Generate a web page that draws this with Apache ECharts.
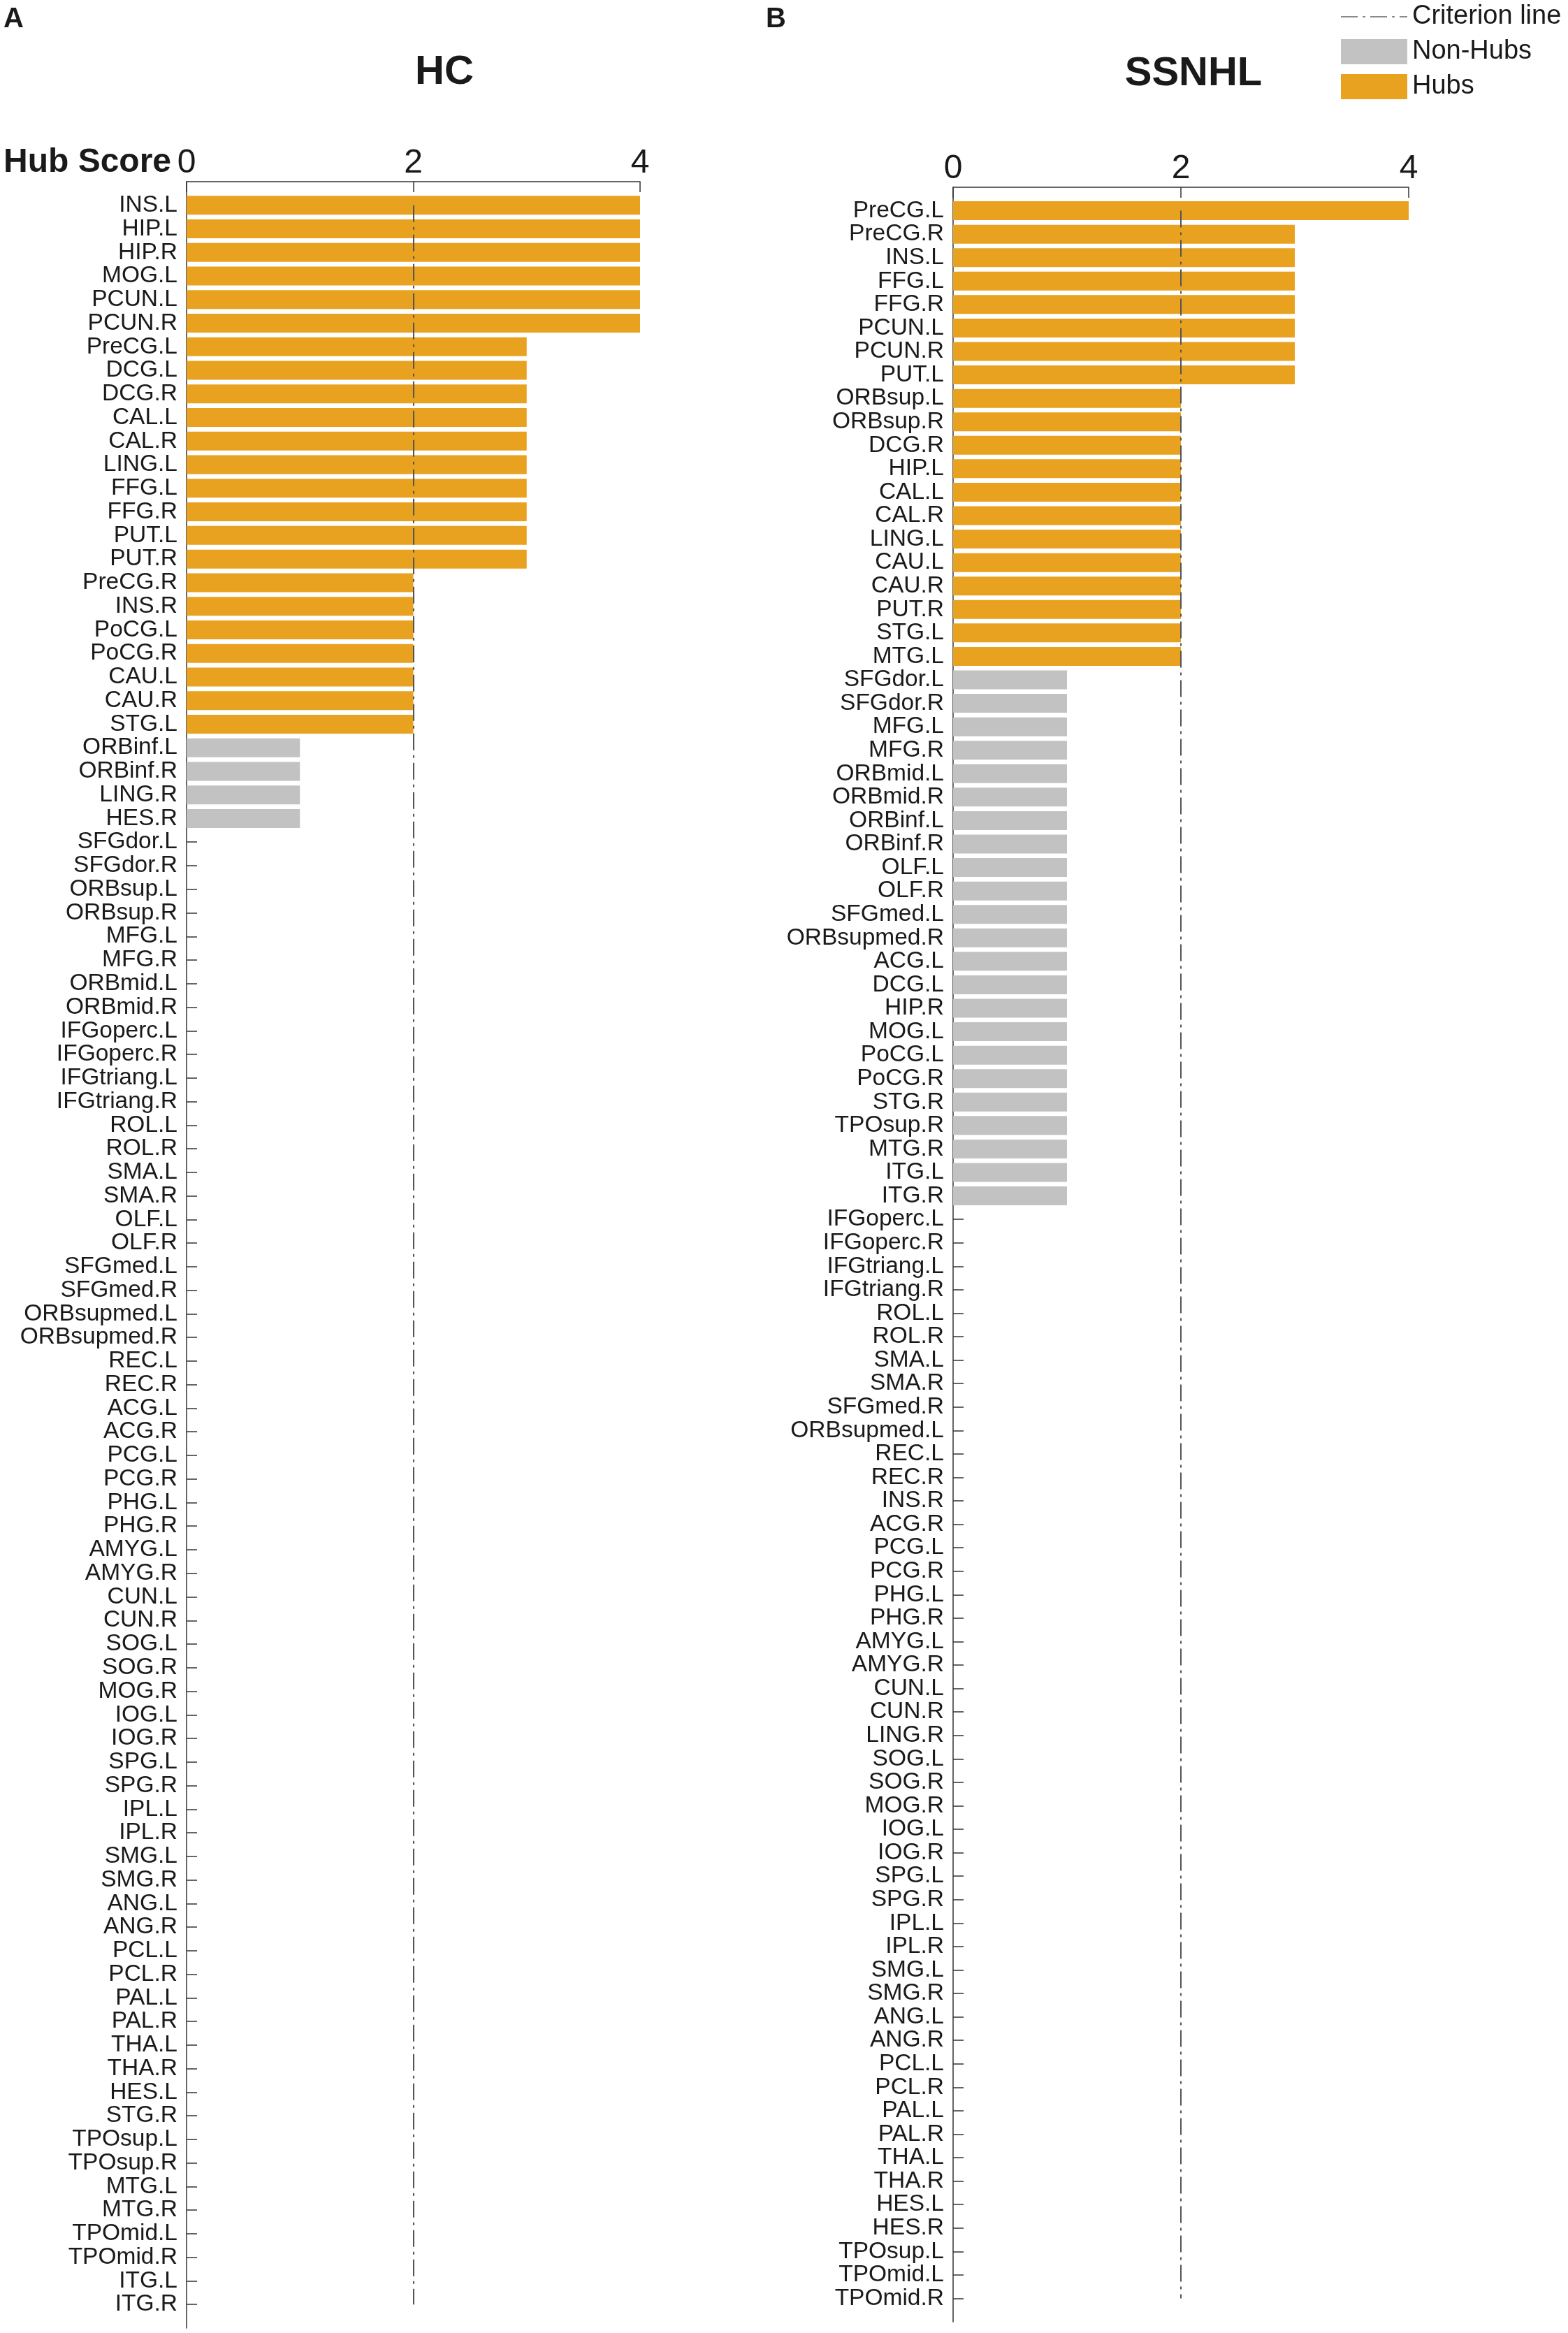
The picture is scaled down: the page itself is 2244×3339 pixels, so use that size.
<!DOCTYPE html>
<html>
<head>
<meta charset="utf-8">
<script src="https://cdn.jsdelivr.net/npm/echarts@6/dist/echarts.min.js"></script>
<style>
html,body{margin:0;padding:0;background:#fff;}
#chart{width:2244px;height:3339px;}
</style>
</head>
<body>
<div id="chart"></div>
<script>
// ---------- DATA ----------
const hcCategories = ["INS.L","HIP.L","HIP.R","MOG.L","PCUN.L","PCUN.R","PreCG.L","DCG.L","DCG.R","CAL.L","CAL.R","LING.L","FFG.L","FFG.R","PUT.L","PUT.R","PreCG.R","INS.R","PoCG.L","PoCG.R","CAU.L","CAU.R","STG.L","ORBinf.L","ORBinf.R","LING.R","HES.R","SFGdor.L","SFGdor.R","ORBsup.L","ORBsup.R","MFG.L","MFG.R","ORBmid.L","ORBmid.R","IFGoperc.L","IFGoperc.R","IFGtriang.L","IFGtriang.R","ROL.L","ROL.R","SMA.L","SMA.R","OLF.L","OLF.R","SFGmed.L","SFGmed.R","ORBsupmed.L","ORBsupmed.R","REC.L","REC.R","ACG.L","ACG.R","PCG.L","PCG.R","PHG.L","PHG.R","AMYG.L","AMYG.R","CUN.L","CUN.R","SOG.L","SOG.R","MOG.R","IOG.L","IOG.R","SPG.L","SPG.R","IPL.L","IPL.R","SMG.L","SMG.R","ANG.L","ANG.R","PCL.L","PCL.R","PAL.L","PAL.R","THA.L","THA.R","HES.L","STG.R","TPOsup.L","TPOsup.R","MTG.L","MTG.R","TPOmid.L","TPOmid.R","ITG.L","ITG.R"];
const hcScores = [4,4,4,4,4,4,3,3,3,3,3,3,3,3,3,3,2,2,2,2,2,2,2,1,1,1,1,0,0,0,0,0,0,0,0,0,0,0,0,0,0,0,0,0,0,0,0,0,0,0,0,0,0,0,0,0,0,0,0,0,0,0,0,0,0,0,0,0,0,0,0,0,0,0,0,0,0,0,0,0,0,0,0,0,0,0,0,0,0,0];

const ssnhlCategories = ["PreCG.L","PreCG.R","INS.L","FFG.L","FFG.R","PCUN.L","PCUN.R","PUT.L","ORBsup.L","ORBsup.R","DCG.R","HIP.L","CAL.L","CAL.R","LING.L","CAU.L","CAU.R","PUT.R","STG.L","MTG.L","SFGdor.L","SFGdor.R","MFG.L","MFG.R","ORBmid.L","ORBmid.R","ORBinf.L","ORBinf.R","OLF.L","OLF.R","SFGmed.L","ORBsupmed.R","ACG.L","DCG.L","HIP.R","MOG.L","PoCG.L","PoCG.R","STG.R","TPOsup.R","MTG.R","ITG.L","ITG.R","IFGoperc.L","IFGoperc.R","IFGtriang.L","IFGtriang.R","ROL.L","ROL.R","SMA.L","SMA.R","SFGmed.R","ORBsupmed.L","REC.L","REC.R","INS.R","ACG.R","PCG.L","PCG.R","PHG.L","PHG.R","AMYG.L","AMYG.R","CUN.L","CUN.R","LING.R","SOG.L","SOG.R","MOG.R","IOG.L","IOG.R","SPG.L","SPG.R","IPL.L","IPL.R","SMG.L","SMG.R","ANG.L","ANG.R","PCL.L","PCL.R","PAL.L","PAL.R","THA.L","THA.R","HES.L","HES.R","TPOsup.L","TPOmid.L","TPOmid.R"];
const ssnhlScores = [4,3,3,3,3,3,3,3,2,2,2,2,2,2,2,2,2,2,2,2,1,1,1,1,1,1,1,1,1,1,1,1,1,1,1,1,1,1,1,1,1,1,1,0,0,0,0,0,0,0,0,0,0,0,0,0,0,0,0,0,0,0,0,0,0,0,0,0,0,0,0,0,0,0,0,0,0,0,0,0,0,0,0,0,0,0,0,0,0,0];

const panelTitles = ["HC", "SSNHL"];
const panelLetters = ["A", "B"];
const legendNames = ["Criterion line", "Non-Hubs", "Hubs"];
const criterion = 2;
const scoreMin = 0, scoreMax = 4, scoreStep = 2;

// ---------- STYLE ----------
const FONT = "'Liberation Sans', Arial, Helvetica, sans-serif";
const HUB_COLOR = "#E8A21F";
const NONHUB_COLOR = "#C2C2C2";
const AXIS_COLOR = "#333333";
const TEXT_COLOR = "#1a1a1a";
const DASH = [24, 7, 4, 7];

const grids = [
  {left: 267, top: 260, width: 649, height: 3072},
  {left: 1364, top: 268, width: 652, height: 3055}
];

function pad(arr){ return [""].concat(arr, [""]); }

const panels = [
  {cats: hcCategories, vals: hcScores},
  {cats: ssnhlCategories, vals: ssnhlScores}
];

const xAxes = [], yAxes = [], series = [];
panels.forEach((p, i) => {
  const cats = pad(p.cats);
  xAxes.push({
    gridIndex: i, type: 'value', position: 'top',
    min: scoreMin, max: scoreMax, interval: scoreStep,
    axisLine: {show: true, lineStyle: {color: AXIS_COLOR, width: 1.5}},
    axisTick: {show: true, inside: true, length: 15, lineStyle: {color: AXIS_COLOR, width: 1.5}},
    axisLabel: {fontSize: 48, color: TEXT_COLOR, fontFamily: FONT, margin: 2},
    splitLine: {show: false}
  });
  yAxes.push({
    gridIndex: i, type: 'category', inverse: true, boundaryGap: false,
    data: cats,
    axisLine: {show: true, lineStyle: {color: AXIS_COLOR, width: 1.5}},
    axisTick: {show: true, inside: true, length: 15, interval: (idx, v) => v !== "",
               lineStyle: {color: AXIS_COLOR, width: 1.5}},
    axisLabel: {interval: 0, fontSize: 33.5, color: TEXT_COLOR, fontFamily: FONT, margin: 13},
    splitLine: {show: false}
  });
  const hubData = ["-"].concat(p.vals.map(v => v >= criterion ? v : "-"), ["-"]);
  const nonData = ["-"].concat(p.vals.map(v => (v > 0 && v < criterion) ? v : "-"), ["-"]);
  series.push({
    name: legendNames[1], type: 'bar', xAxisIndex: i, yAxisIndex: i,
    data: nonData, barWidth: 27, barGap: '-100%',
    itemStyle: {color: NONHUB_COLOR}, silent: true
  });
  series.push({
    name: legendNames[2], type: 'bar', xAxisIndex: i, yAxisIndex: i,
    data: hubData, barWidth: 27, barGap: '-100%',
    itemStyle: {color: HUB_COLOR}, silent: true,
    markLine: {
      silent: true, symbol: 'none', label: {show: false},
      lineStyle: {color: '#555555', width: 2, type: DASH},
      data: [[{coord: [criterion, 1]}, {coord: [criterion, p.cats.length]}]],
      animation: false
    }
  });
});
// legend-only series for the criterion line
series.push({
  name: legendNames[0], type: 'line', xAxisIndex: 0, yAxisIndex: 0,
  data: [], symbol: 'none', showSymbol: false,
  lineStyle: {color: '#8a8a8a', width: 3, type: DASH},
  itemStyle: {color: '#8a8a8a'}
});

const titles = [
  {text: panelLetters[0], left: 0, top: 3, textStyle: {fontSize: 40, fontWeight: 'bold', color: TEXT_COLOR, fontFamily: FONT}},
  {text: panelLetters[1], left: 1091, top: 3, textStyle: {fontSize: 40, fontWeight: 'bold', color: TEXT_COLOR, fontFamily: FONT}},
  {text: panelTitles[0], left: 631, top: 70, textAlign: 'center', textStyle: {fontSize: 58, fontWeight: 'bold', color: TEXT_COLOR, fontFamily: FONT}},
  {text: panelTitles[1], left: 1703, top: 72, textAlign: 'center', textStyle: {fontSize: 58, fontWeight: 'bold', color: TEXT_COLOR, fontFamily: FONT}},
  {text: 'Hub Score', left: 0, top: 204, textStyle: {fontSize: 48, fontWeight: 'bold', color: TEXT_COLOR, fontFamily: FONT}}
];

const chart = echarts.init(document.getElementById('chart'), null, {renderer: 'canvas'});
chart.setOption({
  animation: false,
  backgroundColor: '#ffffff',
  title: titles,
  legend: {
    orient: 'vertical', left: 1913, top: 0,
    itemWidth: 95, itemHeight: 36, itemGap: 12,
    textStyle: {fontSize: 38, color: TEXT_COLOR, fontFamily: FONT, padding: [0, 0, 0, 2]},
    selectedMode: false,
    data: [
      {name: legendNames[0], itemStyle: {opacity: 0}},
      {name: legendNames[1], icon: 'rect'},
      {name: legendNames[2], icon: 'rect'}
    ]
  },
  grid: grids.map(g => Object.assign({containLabel: false}, g)),
  xAxis: xAxes,
  yAxis: yAxes,
  series: series
});
</script>
</body>
</html>
